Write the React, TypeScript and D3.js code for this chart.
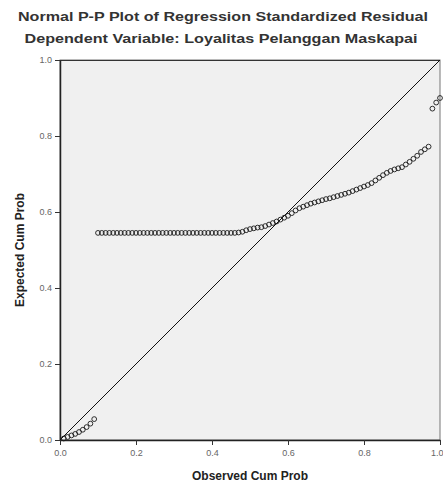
import React, { useEffect, useRef } from "react";
import * as d3 from "d3";

const titleLines = [
  "Normal P-P Plot of Regression Standardized Residual",
  "Dependent Variable: Loyalitas Pelanggan Maskapai",
];
const xLabel = "Observed Cum Prob";
const yLabel = "Expected Cum Prob";
const tickValues = [0, 0.2, 0.4, 0.6, 0.8, 1.0];

const observed = [
  0.01, 0.02, 0.03, 0.04, 0.05, 0.06, 0.07, 0.08, 0.09, 0.1,
  0.11, 0.12, 0.13, 0.14, 0.15, 0.16, 0.17, 0.18, 0.19, 0.2,
  0.21, 0.22, 0.23, 0.24, 0.25, 0.26, 0.27, 0.28, 0.29, 0.3,
  0.31, 0.32, 0.33, 0.34, 0.35, 0.36, 0.37, 0.38, 0.39, 0.4,
  0.41, 0.42, 0.43, 0.44, 0.45, 0.46, 0.47, 0.48, 0.49, 0.5,
  0.51, 0.52, 0.53, 0.54, 0.55, 0.56, 0.57, 0.58, 0.59, 0.6,
  0.61, 0.62, 0.63, 0.64, 0.65, 0.66, 0.67, 0.68, 0.69, 0.7,
  0.71, 0.72, 0.73, 0.74, 0.75, 0.76, 0.77, 0.78, 0.79, 0.8,
  0.81, 0.82, 0.83, 0.84, 0.85, 0.86, 0.87, 0.88, 0.89, 0.9,
  0.91, 0.92, 0.93, 0.94, 0.95, 0.96, 0.97, 0.98, 0.99, 1.0,
];
const expected = [
  0.004, 0.008, 0.012, 0.016, 0.021, 0.027, 0.034, 0.043, 0.055, 0.545,
  0.545, 0.545, 0.545, 0.545, 0.545, 0.545, 0.545, 0.545, 0.545, 0.545,
  0.545, 0.545, 0.545, 0.545, 0.545, 0.545, 0.545, 0.545, 0.545, 0.545,
  0.545, 0.545, 0.545, 0.545, 0.545, 0.545, 0.545, 0.545, 0.545, 0.545,
  0.545, 0.545, 0.545, 0.545, 0.545, 0.545, 0.546, 0.548, 0.552, 0.555,
  0.557, 0.559, 0.56, 0.563, 0.567, 0.571, 0.575, 0.58, 0.585, 0.59,
  0.597, 0.604, 0.61, 0.614, 0.618, 0.622, 0.625, 0.628, 0.631, 0.634,
  0.636, 0.639, 0.642, 0.645, 0.648, 0.651, 0.655, 0.659, 0.663, 0.667,
  0.671, 0.676, 0.683, 0.69, 0.697, 0.703, 0.708, 0.712, 0.715, 0.718,
  0.725, 0.732, 0.74, 0.748, 0.758, 0.765, 0.772, 0.872, 0.888, 0.9,
];

const W = 443;
const H = 486;
const plot = { left: 60, top: 60, right: 440, bottom: 440 };

export default function App() {
  const ref = useRef<SVGSVGElement>(null);

  useEffect(() => {
    const svg = d3.select(ref.current);
    svg.selectAll("*").remove();
    const font = "Arial, 'Liberation Sans', sans-serif";

    const x = d3.scaleLinear().domain([0, 1]).range([plot.left, plot.right]);
    const y = d3.scaleLinear().domain([0, 1]).range([plot.bottom, plot.top]);

    svg.append("rect").attr("x", 0).attr("y", 0).attr("width", W).attr("height", H).attr("fill", "#ffffff");

    // titles
    svg.append("text")
      .attr("x", 223).attr("y", 21)
      .attr("text-anchor", "middle")
      .attr("font-family", font).attr("font-size", 13).attr("font-weight", "bold")
      .attr("fill", "#333")
      .attr("textLength", 410).attr("lengthAdjust", "spacingAndGlyphs")
      .text(titleLines[0]);
    svg.append("text")
      .attr("x", 221).attr("y", 43)
      .attr("text-anchor", "middle")
      .attr("font-family", font).attr("font-size", 13).attr("font-weight", "bold")
      .attr("fill", "#333")
      .attr("textLength", 393).attr("lengthAdjust", "spacingAndGlyphs")
      .text(titleLines[1]);

    // panel
    svg.append("rect")
      .attr("x", plot.left).attr("y", plot.top)
      .attr("width", plot.right - plot.left).attr("height", plot.bottom - plot.top)
      .attr("fill", "#f0f0f0").attr("stroke", "#777").attr("stroke-width", 1);
    svg.append("line")
      .attr("x1", plot.left).attr("x2", plot.right).attr("y1", plot.top + 0.5).attr("y2", plot.top + 0.5)
      .attr("stroke", "#333");

    // axes
    const xAxis = d3.axisBottom(x).tickValues(tickValues).tickFormat(d3.format(".1f")).tickSize(5).tickSizeOuter(0);
    const yAxis = d3.axisLeft(y).tickValues(tickValues).tickFormat(d3.format(".1f")).tickSize(5).tickSizeOuter(0);
    const gx = svg.append("g").attr("transform", `translate(0,${plot.bottom})`).call(xAxis);
    const gy = svg.append("g").attr("transform", `translate(${plot.left},0)`).call(yAxis);
    [gx, gy].forEach((g) => {
      g.select(".domain").attr("stroke", "#222").attr("stroke-width", 1.5);
      g.selectAll(".tick line").attr("stroke", "#333");
      g.selectAll(".tick text")
        .attr("font-family", font).attr("font-size", 9).attr("fill", "#666");
    });
    gx.selectAll(".tick text").attr("dy", "0.9em");
    gx.selectAll(".tick text")
      .filter((d: any) => d === 1)
      .attr("text-anchor", "end").attr("x", 3);

    // reference diagonal
    svg.append("line")
      .attr("x1", x(0)).attr("y1", y(0)).attr("x2", x(1)).attr("y2", y(1))
      .attr("stroke", "#111").attr("stroke-width", 1);

    // points
    const pts = observed.map((o, i) => ({ o, e: expected[i] }));
    svg.append("g").selectAll("circle").data(pts).join("circle")
      .attr("cx", (d) => x(d.o)).attr("cy", (d) => y(d.e))
      .attr("r", 2.4)
      .attr("fill", "none").attr("stroke", "#1a1a1a").attr("stroke-width", 0.9);

    // axis labels
    svg.append("text")
      .attr("x", 250).attr("y", 480)
      .attr("text-anchor", "middle")
      .attr("font-family", font).attr("font-size", 12).attr("font-weight", "bold")
      .attr("fill", "#222")
      .text(xLabel);
    svg.append("text")
      .attr("transform", `translate(24,250) rotate(-90)`)
      .attr("text-anchor", "middle")
      .attr("font-family", font).attr("font-size", 12).attr("font-weight", "bold")
      .attr("fill", "#222")
      .text(yLabel);
  }, []);

  return (
    <svg
      ref={ref}
      width={W}
      height={H}
      style={{ position: "absolute", left: 0, top: 0, display: "block" }}
    />
  );
}
